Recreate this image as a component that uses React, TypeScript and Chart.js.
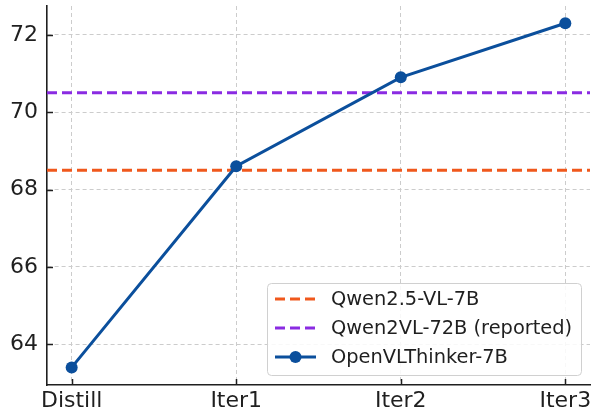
import React, { useEffect, useRef } from "react";
import { Chart, registerables } from "chart.js";

Chart.register(...registerables);

const categories = ["Distill", "Iter1", "Iter2", "Iter3"];
const thinkerValues = [63.4, 68.6, 70.9, 72.3];
const qwen25Value = 68.5;
const qwen72Value = 70.5;
const yTicks = [64, 66, 68, 70, 72];
const seriesLabels = ["Qwen2.5-VL-7B", "Qwen2VL-72B (reported)", "OpenVLThinker-7B"];

const X_MIN = -0.15;
const X_MAX = categories.length - 1 + 0.15;
const Y_MIN = 62.945;
const Y_MAX = 72.745;

const ORANGE = "#f0581c";
const PURPLE = "#8a2be2";
const BLUE = "#0b4f9c";
const FONT = "'DejaVu Sans', sans-serif";
const INK = "#1f1f1f";

const inwardTicks = {
  id: "inwardTicks",
  afterDatasetsDraw(chart: any) {
    const { ctx, chartArea } = chart;
    const xs = chart.scales.x;
    const ys = chart.scales.y;
    ctx.save();
    ctx.strokeStyle = INK;
    ctx.lineWidth = 1.5;
    ctx.beginPath();
    xs.ticks.forEach((t: any) => {
      const px = Math.round(xs.getPixelForValue(t.value)) + 0.5;
      ctx.moveTo(px, chartArea.bottom);
      ctx.lineTo(px, chartArea.bottom - 6);
    });
    ys.ticks.forEach((t: any) => {
      const py = Math.round(ys.getPixelForValue(t.value)) + 0.5;
      ctx.moveTo(chartArea.left, py);
      ctx.lineTo(chartArea.left + 6, py);
    });
    ctx.stroke();
    ctx.restore();
  },
};

const boxLegend = {
  id: "boxLegend",
  afterDraw(chart: any) {
    const { ctx, chartArea } = chart;
    const w = 314;
    const h = 92;
    const x = chartArea.right - 9 - w;
    const y = chartArea.bottom - 10 - h;
    ctx.save();
    ctx.beginPath();
    ctx.roundRect(x + 0.5, y + 0.5, w, h, 4);
    ctx.fillStyle = "rgba(255,255,255,0.85)";
    ctx.fill();
    ctx.strokeStyle = "#d0d0d0";
    ctx.lineWidth = 1;
    ctx.stroke();
    const items = [
      { label: seriesLabels[0], color: ORANGE, dash: [10, 5], marker: false },
      { label: seriesLabels[1], color: PURPLE, dash: [10, 5], marker: false },
      { label: seriesLabels[2], color: BLUE, dash: [], marker: true },
    ];
    items.forEach((it, i) => {
      const cy = y + 16 + i * 29;
      ctx.beginPath();
      ctx.setLineDash(it.dash);
      ctx.strokeStyle = it.color;
      ctx.lineWidth = 3;
      ctx.moveTo(x + 8, cy);
      ctx.lineTo(x + 49, cy);
      ctx.stroke();
      ctx.setLineDash([]);
      if (it.marker) {
        ctx.beginPath();
        ctx.fillStyle = it.color;
        ctx.arc(x + 28.5, cy, 6, 0, Math.PI * 2);
        ctx.fill();
      }
      ctx.fillStyle = INK;
      ctx.font = `19.4px ${FONT}`;
      ctx.textBaseline = "middle";
      ctx.textAlign = "left";
      ctx.fillText(it.label, x + 64, cy + 1);
    });
    ctx.restore();
  },
};

export default function App() {
  const ref = useRef<HTMLCanvasElement | null>(null);
  useEffect(() => {
    document.body.style.margin = "0";
    const canvas = ref.current!;
    const xs = categories.map((_, i) => i);
    const chart = new Chart(canvas, {
      type: "line",
      data: {
        datasets: [
          {
            label: seriesLabels[2],
            data: xs.map((x, i) => ({ x, y: thinkerValues[i] })),
            borderColor: BLUE,
            backgroundColor: BLUE,
            borderWidth: 3,
            pointRadius: 6,
            pointBackgroundColor: BLUE,
            pointBorderColor: BLUE,
            pointBorderWidth: 0,
            order: 0,
          },
          {
            label: seriesLabels[0],
            data: [
              { x: X_MIN, y: qwen25Value },
              { x: X_MAX, y: qwen25Value },
            ],
            borderColor: ORANGE,
            borderWidth: 3,
            borderDash: [10, 5],
            pointRadius: 0,
            order: 2,
          },
          {
            label: seriesLabels[1],
            data: [
              { x: X_MIN, y: qwen72Value },
              { x: X_MAX, y: qwen72Value },
            ],
            borderColor: PURPLE,
            borderWidth: 3,
            borderDash: [10, 5],
            pointRadius: 0,
            order: 1,
          },
        ],
      },
      options: {
        responsive: false,
        animation: false,
        devicePixelRatio: 1,
        layout: { autoPadding: false, padding: { top: 6, right: 4, left: 0, bottom: 0 } },
        plugins: { legend: { display: false }, tooltip: { enabled: false } },
        scales: {
          x: {
            type: "linear",
            min: X_MIN,
            max: X_MAX,
            afterBuildTicks: (s: any) => {
              s.ticks = categories.map((_, i) => ({ value: i }));
            },
            afterFit: (s: any) => {
              s.height = 29;
              s.paddingLeft = 0;
              s.paddingRight = 0;
            },
            ticks: {
              callback: (v: any) => categories[Math.round(Number(v))] ?? "",
              font: { family: FONT, size: 22 },
              color: INK,
              padding: 3,
              maxRotation: 0,
              autoSkip: false,
            },
            grid: { color: "#cccccc", lineWidth: 1, drawTicks: false },
            border: { display: true, color: INK, width: 1.6, dash: [4, 3] },
          },
          y: {
            type: "linear",
            min: Y_MIN,
            max: Y_MAX,
            afterBuildTicks: (s: any) => {
              s.ticks = yTicks.map((v) => ({ value: v }));
            },
            afterFit: (s: any) => {
              s.width = 47;
              s.paddingTop = 0;
              s.paddingBottom = 0;
            },
            ticks: {
              callback: (v: any) => String(v),
              font: { family: FONT, size: 22 },
              color: INK,
              padding: 9,
            },
            grid: { color: "#cccccc", lineWidth: 1, drawTicks: false },
            border: { display: true, color: INK, width: 1.6, dash: [4, 3] },
          },
        },
      },
      plugins: [inwardTicks, boxLegend],
    });
    return () => chart.destroy();
  }, []);
  return (
    <div style={{ position: "absolute", left: 0, top: 0, width: 594, height: 414, background: "#fff" }}>
      <canvas ref={ref} width={594} height={414} />
    </div>
  );
}
